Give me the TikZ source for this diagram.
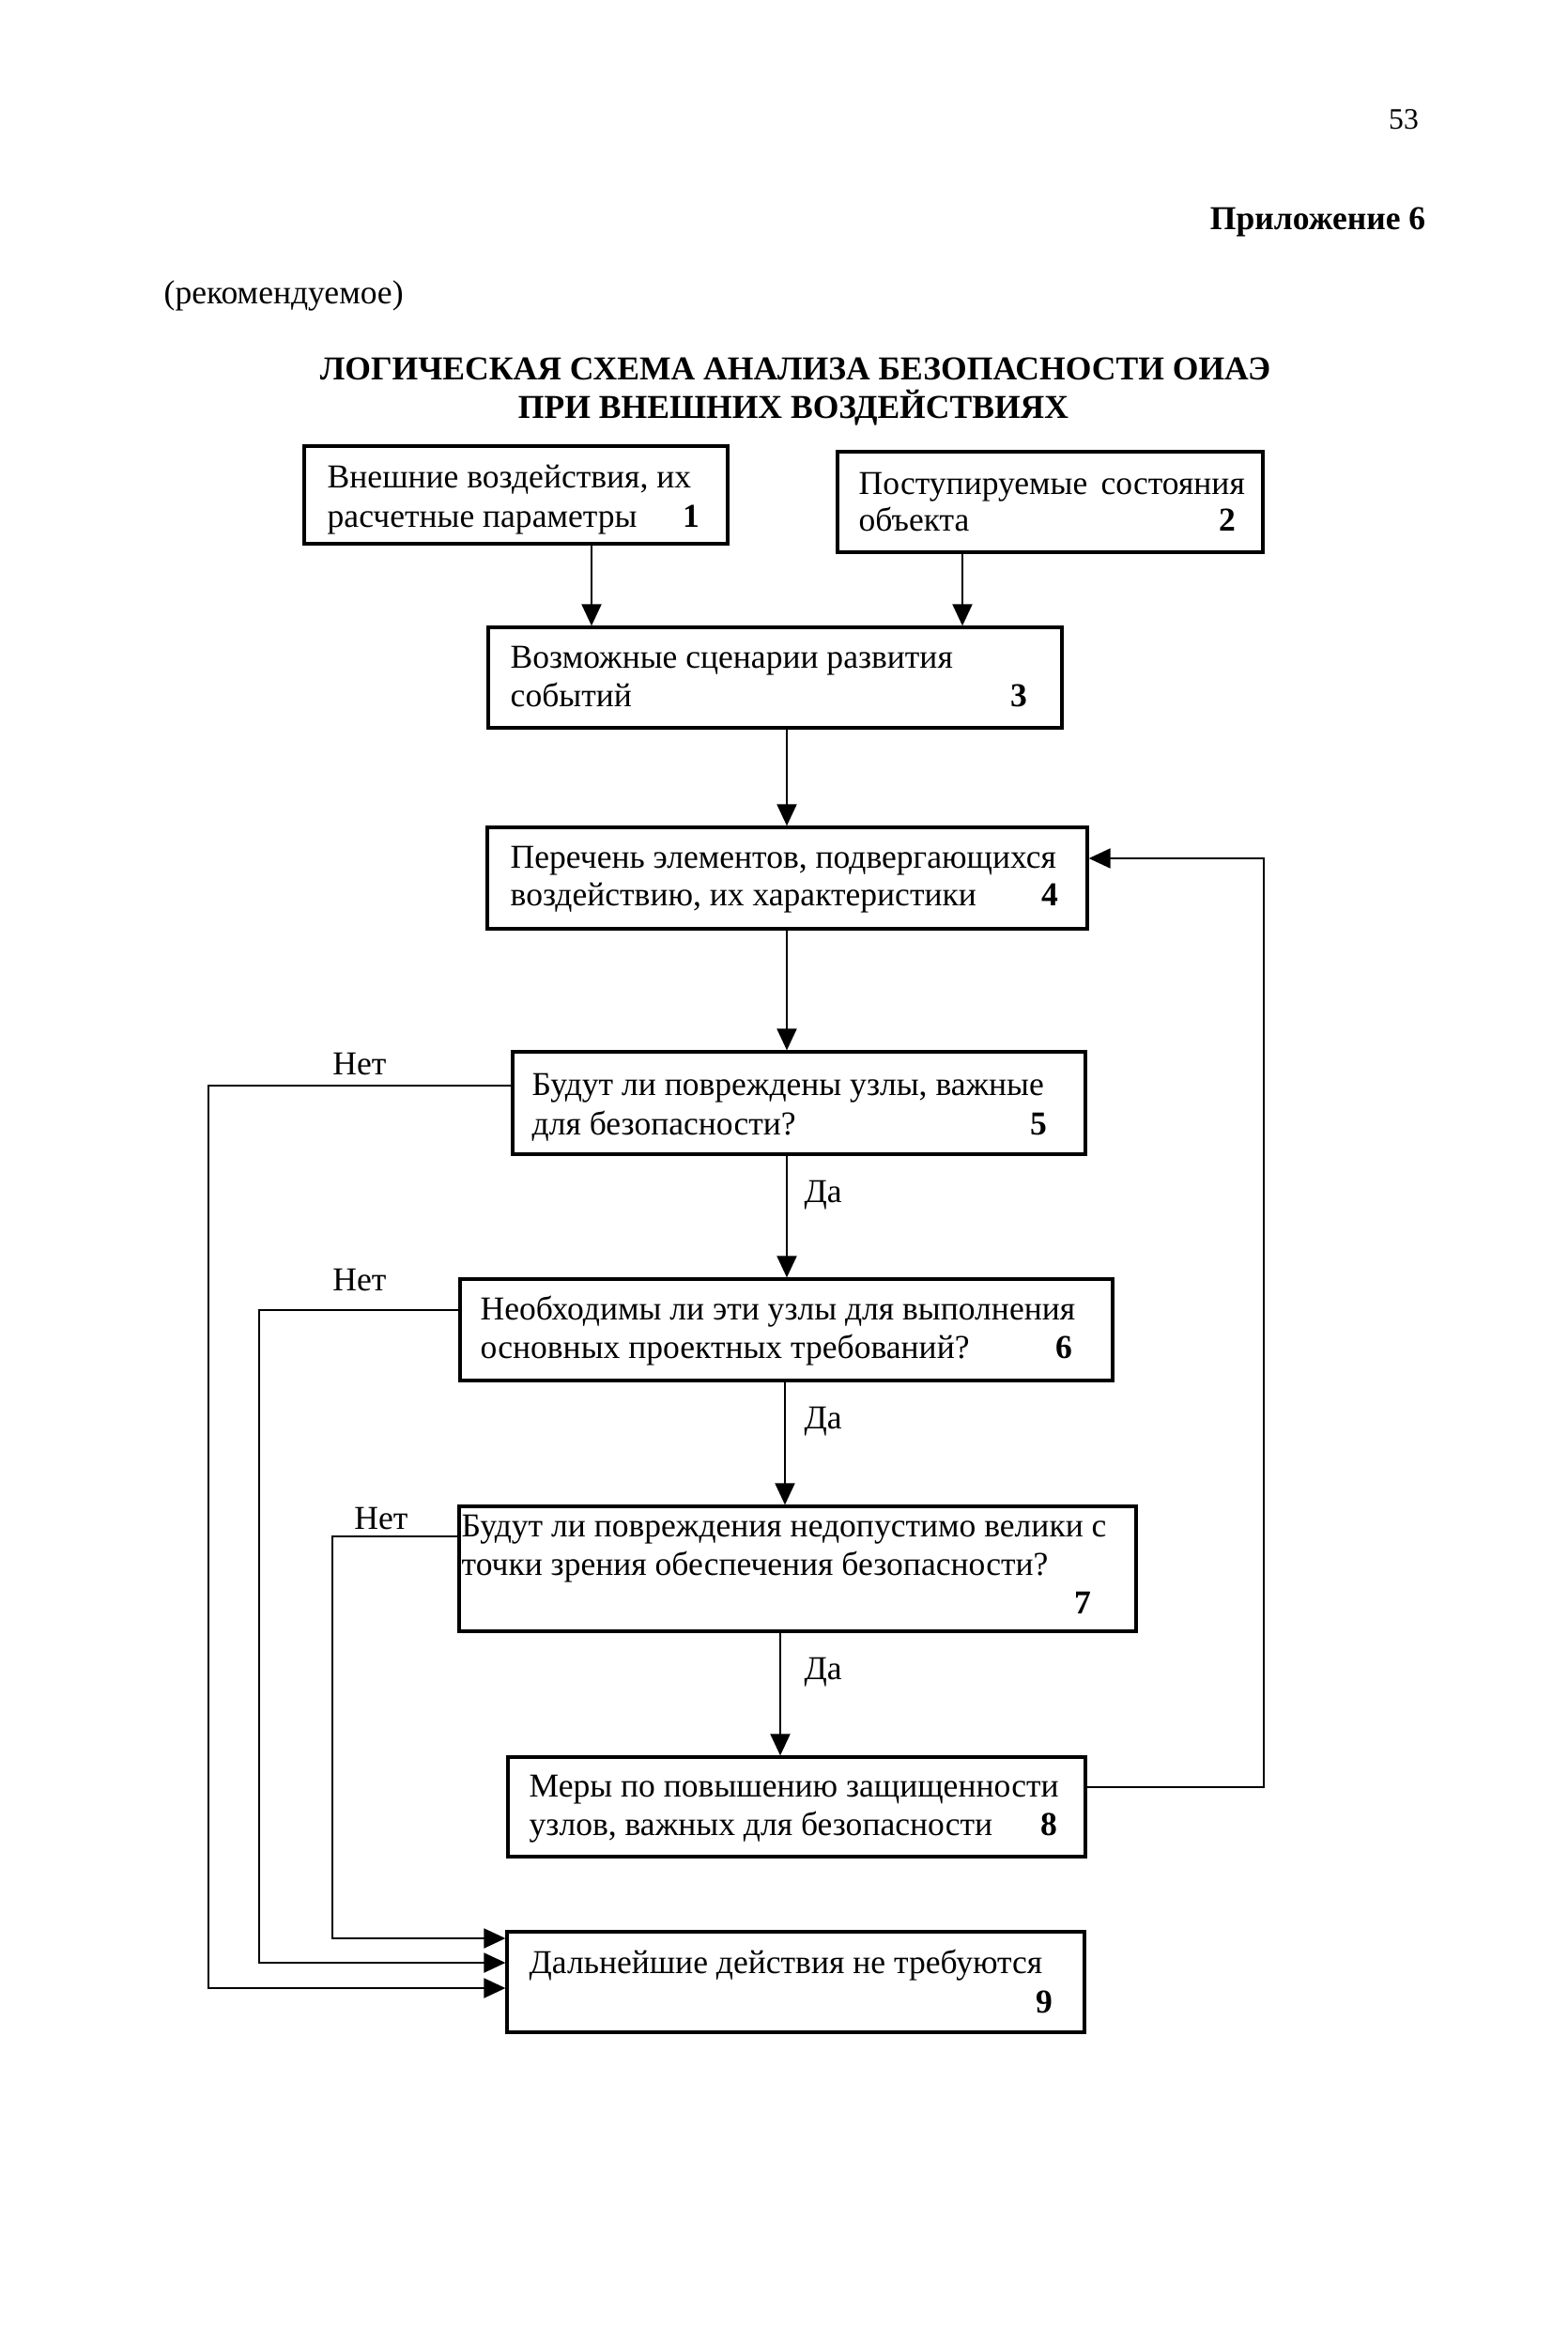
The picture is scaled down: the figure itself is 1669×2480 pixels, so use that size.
\documentclass[tikz,border=0pt]{standalone}
\usepackage{fontspec}
\setmainfont{Liberation Serif}
\usetikzlibrary{arrows.meta,fit}
\newcommand{\fs}{\fontsize{10.12pt}{12pt}\selectfont}
\begin{document}
\begin{tikzpicture}[x=0.1mm,y=-0.1mm,
  box/.style={draw, line width=0.33mm, inner sep=0pt},
  txt/.style={anchor=base west, inner sep=0pt, font=\fs},
  num/.style={anchor=base, inner sep=0pt, font=\fs\bfseries},
  lbl/.style={anchor=base, inner sep=0pt, font=\fs},
  conn/.style={line width=0.2mm},
  arr/.style={line width=0.2mm, -{Triangle[length=2.3mm,width=2.1mm]}}]
\fill[white] (0,0) rectangle (1669,2480);
\useasboundingbox (0,0) rectangle (1669,2480);

% header
\node[anchor=base, inner sep=0pt, font=\fontsize{9pt}{11pt}\selectfont] (pg) at (1495,137) {53};
\node[anchor=base east, inner sep=0pt, font=\fs\bfseries] (app) at (1519,244) {Приложение 6};
\node[txt] (rec) at (174,323) {(рекомендуемое)};
\node[anchor=base, inner sep=0pt, font=\fs\bfseries] (tt1) at (847,404) {ЛОГИЧЕСКАЯ СХЕМА АНАЛИЗА БЕЗОПАСНОСТИ ОИАЭ};
\node[anchor=base, inner sep=0pt, font=\fs\bfseries] (tt2) at (845,445) {ПРИ ВНЕШНИХ ВОЗДЕЙСТВИЯХ};

% boxes
\node[box, fit={(324,475) (775,579)}] (b1) {};
\node[box, fit={(892,481) (1345,588)}] (b2) {};
\node[box, fit={(520,668) (1131,775)}] (b3) {};
\node[box, fit={(519,881) (1158,989)}] (b4) {};
\node[box, fit={(546,1120) (1156,1229)}] (b5) {};
\node[box, fit={(490,1362) (1185,1470)}] (b6) {};
\node[box, fit={(489,1604) (1210,1737)}] (b7) {};
\node[box, fit={(541,1871) (1156,1977)}] (b8) {};
\node[box, fit={(540,2057) (1155,2164)}] (b9) {};

% texts
\node[txt] (t1a) at (348,519) {Внешние воздействия, их};
\node[txt] (t1b) at (348,561) {расчетные параметры};
\node[num] (n1) at (736,561) {1};
\node[txt] (t2a) at (914,526) {Поступируемые\hspace{0.4em}состояния};
\node[txt] (t2b) at (914,565) {объекта};
\node[num] (n2) at (1307,565) {2};
\node[txt] (t3a) at (543,711) {Возможные сценарии развития};
\node[txt] (t3b) at (543,752) {событий};
\node[num] (n3) at (1085,752) {3};
\node[txt] (t4a) at (543,924) {Перечень элементов, подвергающихся};
\node[txt] (t4b) at (543,964) {воздействию, их характеристики};
\node[num] (n4) at (1118,964) {4};
\node[txt] (t5a) at (566,1166) {Будут ли повреждены узлы, важные};
\node[txt] (t5b) at (566,1208) {для безопасности?};
\node[num] (n5) at (1106,1208) {5};
\node[txt] (t6a) at (511,1405) {Необходимы ли эти узлы для выполнения};
\node[txt] (t6b) at (511,1446) {основных проектных требований?};
\node[num] (n6) at (1133,1446) {6};
\node[txt] (t7a) at (491,1636) {Будут ли повреждения недопустимо велики с};
\node[txt] (t7b) at (491,1677) {точки зрения обеспечения безопасности?};
\node[num] (n7) at (1153,1718) {7};
\node[txt] (t8a) at (563,1913) {Меры по повышению защищенности};
\node[txt] (t8b) at (563,1954) {узлов, важных для безопасности};
\node[num] (n8) at (1117,1954) {8};
\node[txt] (t9a) at (563,2101) {Дальнейшие действия не требуются};
\node[num] (n9) at (1112,2143) {9};

% labels
\node[lbl] (no5) at (383,1144) {Нет};
\node[lbl] (no6) at (383,1374) {Нет};
\node[lbl] (no7) at (406,1628) {Нет};
\node[txt] (yes5) at (856,1280) {Да};
\node[txt] (yes6) at (856,1521) {Да};
\node[txt] (yes7) at (856,1788) {Да};

% connector coordinates
\coordinate (x13) at (630,0);
\coordinate (x23) at (1025,0);
\coordinate (xm) at (838,0);
\coordinate (x67) at (836,0);
\coordinate (x78) at (831,0);
\coordinate (xr) at (1346,0);
\coordinate (xl5) at (222,0);
\coordinate (xl6) at (276,0);
\coordinate (xl7) at (354,0);
\coordinate (y4) at (0,914);
\coordinate (y8) at (0,1903);
\coordinate (y5) at (0,1156);
\coordinate (y6) at (0,1395);
\coordinate (y7) at (0,1636);
\coordinate (y9a) at (0,2064);
\coordinate (y9b) at (0,2090);
\coordinate (y9c) at (0,2117);

% connectors
\draw[arr] (b1.south -| x13) -- (b3.north -| x13);
\draw[arr] (b2.south -| x23) -- (b3.north -| x23);
\draw[arr] (b3.south -| xm) -- (b4.north -| xm);
\draw[arr] (b4.south -| xm) -- (b5.north -| xm);
\draw[arr] (b5.south -| xm) -- (b6.north -| xm);
\draw[arr] (b6.south -| x67) -- (b7.north -| x67);
\draw[arr] (b7.south -| x78) -- (b8.north -| x78);
\draw[arr] (b8.east |- y8) -- (xr |- y8) -- (xr |- y4) -- (b4.east |- y4);
\draw[arr] (b5.west |- y5) -- (xl5 |- y5) -- (xl5 |- y9c) -- (b9.west |- y9c);
\draw[arr] (b6.west |- y6) -- (xl6 |- y6) -- (xl6 |- y9b) -- (b9.west |- y9b);
\draw[arr] (b7.west |- y7) -- (xl7 |- y7) -- (xl7 |- y9a) -- (b9.west |- y9a);
\end{tikzpicture}
\end{document}
